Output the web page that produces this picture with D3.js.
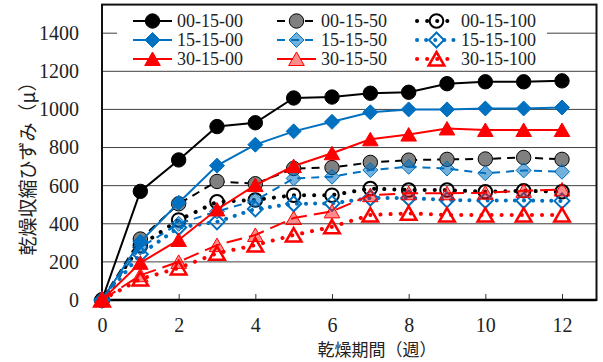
<!DOCTYPE html>
<html>
<head>
<meta charset="utf-8">
<script src="https://cdn.jsdelivr.net/npm/d3@7"></script>
<style>
body { margin: 0; background: #fff; }
.serif { font-family: "Liberation Serif", "Times New Roman", "DejaVu Serif", serif; }
.cjk { font-family: "Noto Sans CJK JP", sans-serif; }
</style>
</head>
<body>
<svg id="chart" width="603" height="362"></svg>
<script>
// weeks of drying
const weeks = [0, 1, 2, 3, 4, 5, 6, 7, 8, 9, 10, 11, 12];

// drying shrinkage strain (μ)
const s00_15_00 = [0, 570, 735, 910, 930, 1060, 1065, 1085, 1090, 1135, 1145, 1145, 1150];
const s00_15_50 = [0, 320, 505, 622, 610, 690, 695, 722, 734, 738, 740, 748, 738];
const s00_15_100 = [0, 285, 420, 515, 525, 550, 550, 585, 577, 577, 568, 573, 568];
const s15_15_00 = [0, 305, 510, 705, 815, 885, 935, 985, 1000, 1000, 1005, 1005, 1010];
const s15_15_50 = [0, 275, 400, 465, 522, 638, 647, 682, 699, 690, 665, 680, 673];
const s15_15_100 = [0, 240, 380, 410, 478, 505, 507, 535, 535, 525, 522, 522, 520];
const s30_15_00 = [0, 195, 315, 475, 603, 703, 770, 843, 868, 900, 892, 892, 892];
const s30_15_50 = [0, 130, 200, 288, 341, 430, 465, 550, 560, 560, 563, 573, 580];
const s30_15_100 = [0, 110, 168, 245, 288, 341, 384, 446, 455, 446, 446, 446, 446];

const yTicks = [0, 200, 400, 600, 800, 1000, 1200, 1400];
const xTicks = [0, 2, 4, 6, 8, 10, 12];

const series = [
    { name: '00-15-00', values: s00_15_00, color: '#000', dash: null, lw: 2, marker: 'circle', fill: '#000', mstroke: '#000', msw: 1 },
    { name: '00-15-50', values: s00_15_50, color: '#000', dash: '8 6', lw: 2, marker: 'circle', fill: '#808080', mstroke: '#000', msw: 1 },
    { name: '00-15-100', values: s00_15_100, color: '#000', dash: '0.1 10', lw: 4, marker: 'circle', fill: 'none', mstroke: '#000', msw: 2 },
    { name: '15-15-00', values: s15_15_00, color: '#0070C0', dash: null, lw: 2, marker: 'diamond', fill: '#0070C0', mstroke: '#0070C0', msw: 1 },
    { name: '15-15-50', values: s15_15_50, color: '#0070C0', dash: '8 6', lw: 2, marker: 'diamond', fill: 'rgba(0,112,192,0.55)', mstroke: '#0070C0', msw: 1 },
    { name: '15-15-100', values: s15_15_100, color: '#0070C0', dash: '0.1 9', lw: 4, marker: 'diamond', fill: 'none', mstroke: '#0070C0', msw: 2 },
    { name: '30-15-00', values: s30_15_00, color: '#FF0000', dash: null, lw: 2, marker: 'triangle', fill: '#FF0000', mstroke: '#FF0000', msw: 1 },
    { name: '30-15-50', values: s30_15_50, color: '#FF0000', dash: '16 7', lw: 2, marker: 'triangle', fill: 'rgba(255,0,0,0.45)', mstroke: '#FF0000', msw: 1 },
    { name: '30-15-100', values: s30_15_100, color: '#FF0000', dash: '0.1 10', lw: 4, marker: 'triangle', fill: 'none', mstroke: '#FF0000', msw: 2.5 }
];

const margin = { top: 4.6, right: 6.5, bottom: 62, left: 102 },
    width = 603 - margin.left - margin.right,
    height = 362 - margin.top - margin.bottom;

const svg = d3.select('#chart');
const g = svg.append('g').attr('transform', `translate(${margin.left},${margin.top})`);

const x = d3.scaleLinear().domain([0, 12.9]).range([0, width]);
const y = d3.scaleLinear().domain([0, 1550]).range([height, 0]);

// gridlines
g.append('g')
    .selectAll('line')
    .data(yTicks.filter(d => d > 0))
    .enter().append('line')
    .attr('x1', 0).attr('x2', width)
    .attr('y1', d => y(d)).attr('y2', d => y(d))
    .attr('stroke', '#404040')
    .attr('stroke-width', 1);

// y axis labels
const yAxis = g.append('g')
    .call(d3.axisLeft(y).tickValues(yTicks).tickFormat(d3.format('d')).tickSize(0).tickPadding(23));
yAxis.attr('font-family', null);
yAxis.select('.domain').remove();
yAxis.selectAll('text')
    .attr('class', 'serif')
    .attr('font-size', 20)
    .attr('fill', '#222');

// x axis, ticks pointing inside
const xAxis = g.append('g')
    .attr('transform', `translate(0,${height})`)
    .call(d3.axisBottom(x).tickValues(xTicks).tickFormat(d3.format('d')).tickSize(-6).tickPadding(18));
xAxis.attr('font-family', null);
xAxis.select('.domain').remove();
xAxis.selectAll('line').attr('stroke', '#333').attr('stroke-width', 1);
xAxis.selectAll('text')
    .attr('class', 'serif')
    .attr('font-size', 20)
    .attr('fill', '#222');

// plot frame
g.append('rect')
    .attr('width', width).attr('height', height)
    .attr('fill', 'none')
    .attr('stroke', '#111')
    .attr('stroke-width', 2);
g.append('line')
    .attr('x1', 0).attr('x2', width)
    .attr('y1', height).attr('y2', height)
    .attr('stroke', '#000')
    .attr('stroke-width', 2.5);

function markerPath(type) {
    if (type === 'diamond') return 'M0,-7.5L7.5,0L0,7.5L-7.5,0Z';
    if (type === 'triangle') return 'M0,-7L7.8,6.5L-7.8,6.5Z';
    return null;
}

function drawMarker(sel, s) {
    if (s.marker === 'circle') {
        sel.append('circle').attr('r', s.fill === 'none' ? 6.8 : 7.2);
    } else {
        sel.append('path').attr('d', markerPath(s.marker));
    }
    sel.selectAll('circle, path')
        .attr('fill', s.fill)
        .attr('stroke', s.mstroke)
        .attr('stroke-width', s.msw);
}

const line = d3.line()
    .x((d, i) => x(weeks[i]))
    .y(d => y(d));

series.forEach(s => {
    const sg = g.append('g');
    sg.append('path')
        .datum(s.values)
        .attr('d', line)
        .attr('fill', 'none')
        .attr('stroke', s.color)
        .attr('stroke-width', s.lw)
        .attr('stroke-linecap', s.dash && s.dash.startsWith('0.1') ? 'round' : 'butt')
        .attr('stroke-dasharray', s.dash);
    sg.selectAll('.pt')
        .data(s.values)
        .enter().append('g')
        .attr('class', 'pt')
        .attr('transform', (d, i) => `translate(${x(weeks[i])},${y(d)})`)
        .each(function () { drawMarker(d3.select(this), s); });
});

// legend
const legend = svg.append('g');
legend.append('rect')
    .attr('x', 117).attr('y', 6)
    .attr('width', 430).attr('height', 63)
    .attr('fill', '#fff');

const colX = [133, 277, 417];
const rowY = [21, 40, 59];
series.forEach((s, i) => {
    const col = i % 3, row = Math.floor(i / 3);
    const lx = colX[col], ly = rowY[row];
    const lg = legend.append('g');
    lg.append('line')
        .attr('x1', lx).attr('x2', lx + 39)
        .attr('y1', ly).attr('y2', ly)
        .attr('stroke', s.color)
        .attr('stroke-width', s.lw)
        .attr('stroke-linecap', s.dash && s.dash.startsWith('0.1') ? 'round' : 'butt')
        .attr('stroke-dasharray', s.dash);
    const m = lg.append('g').attr('transform', `translate(${lx + 19.5},${ly})`);
    drawMarker(m, s);
    lg.append('text')
        .attr('class', 'serif')
        .attr('x', lx + 44)
        .attr('y', ly + 6)
        .attr('font-size', 18)
        .attr('fill', '#222')
        .text(s.name);
});

// axis titles
svg.append('text')
    .attr('class', 'cjk')
    .attr('x', 377)
    .attr('y', 356)
    .attr('text-anchor', 'middle')
    .attr('font-size', 17)
    .attr('fill', '#222')
    .text('乾燥期間（週）');

svg.append('text')
    .attr('class', 'cjk')
    .attr('transform', 'translate(35,164) rotate(-90)')
    .attr('text-anchor', 'middle')
    .attr('font-size', 19)
    .attr('fill', '#222')
    .text('乾燥収縮ひずみ（μ）');
</script>
</body>
</html>
